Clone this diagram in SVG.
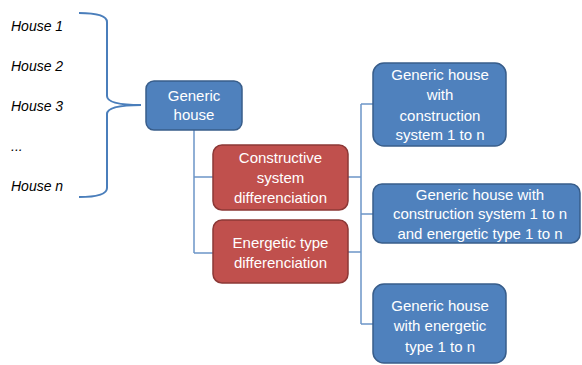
<svg xmlns="http://www.w3.org/2000/svg" width="582" height="365" viewBox="0 0 582 365">
<style>
.lbl{font-family:"Liberation Sans",Arial,sans-serif;font-size:14px;fill:#000;font-style:italic}
.t{font-family:"Liberation Sans",Arial,sans-serif;font-size:15px;fill:#fff;text-anchor:middle}
.blue{fill:#4F81BD;stroke:#385D8A;stroke-width:1.5}
.red{fill:#C0504D;stroke:#8C3836;stroke-width:1.5}
.conn{fill:none;stroke:#6C95C8;stroke-width:1.5}
</style>
<rect width="582" height="365" fill="#fff"/>
<g id="labels">
<text class="lbl" x="11" y="31">House 1</text>
<text class="lbl" x="11" y="71">House 2</text>
<text class="lbl" x="11" y="111">House 3</text>
<text class="lbl" x="11" y="151">...</text>
<text class="lbl" x="11" y="191">House n</text>
</g>
<g id="brace">
<path d="M79,13 Q107,13 107,22 L107,96 Q107,105 141,105 Q107,105 107,114 L107,188 Q107,197 79,197" fill="none" stroke="#4A7EBB" stroke-width="2"/>
</g>
<g id="connectors">
<path class="conn" d="M194,130 V253 M194,177 H213 M194,253 H213"/>
<path class="conn" d="M348,177 H361 M348,252 H361 M361,104 V324 M361,104 H373 M361,214 H373 M361,324 H373"/>
</g>
<g id="generic">
<rect class="blue" x="146" y="81" width="96" height="49" rx="8"/>
<text class="t" x="194" y="101">Generic</text>
<text class="t" x="194" y="120">house</text>
</g>
<g id="constructive">
<rect class="red" x="213" y="145" width="135" height="65" rx="9"/>
<text class="t" x="280.5" y="163">Constructive</text>
<text class="t" x="280.5" y="183">system</text>
<text class="t" x="280.5" y="203">differenciation</text>
</g>
<g id="energetic">
<rect class="red" x="213" y="220" width="135" height="63" rx="9"/>
<text class="t" x="280.5" y="248">Energetic type</text>
<text class="t" x="280.5" y="268">differenciation</text>
</g>
<g id="boxA">
<rect class="blue" x="373" y="63" width="133" height="83" rx="11"/>
<text class="t" x="440" y="80">Generic house</text>
<text class="t" x="440" y="100">with</text>
<text class="t" x="440" y="121">construction</text>
<text class="t" x="440" y="140">system 1 to n</text>
</g>
<g id="boxB">
<rect class="blue" x="373" y="184" width="207" height="59" rx="9"/>
<text class="t" x="480" y="200">Generic house with</text>
<text class="t" x="480" y="219">construction system 1 to n</text>
<text class="t" x="480" y="239">and energetic type 1 to n</text>
</g>
<g id="boxC">
<rect class="blue" x="373" y="284" width="133" height="79" rx="11"/>
<text class="t" x="440" y="311">Generic house</text>
<text class="t" x="440" y="331">with energetic</text>
<text class="t" x="440" y="352">type 1 to n</text>
</g>
</svg>
